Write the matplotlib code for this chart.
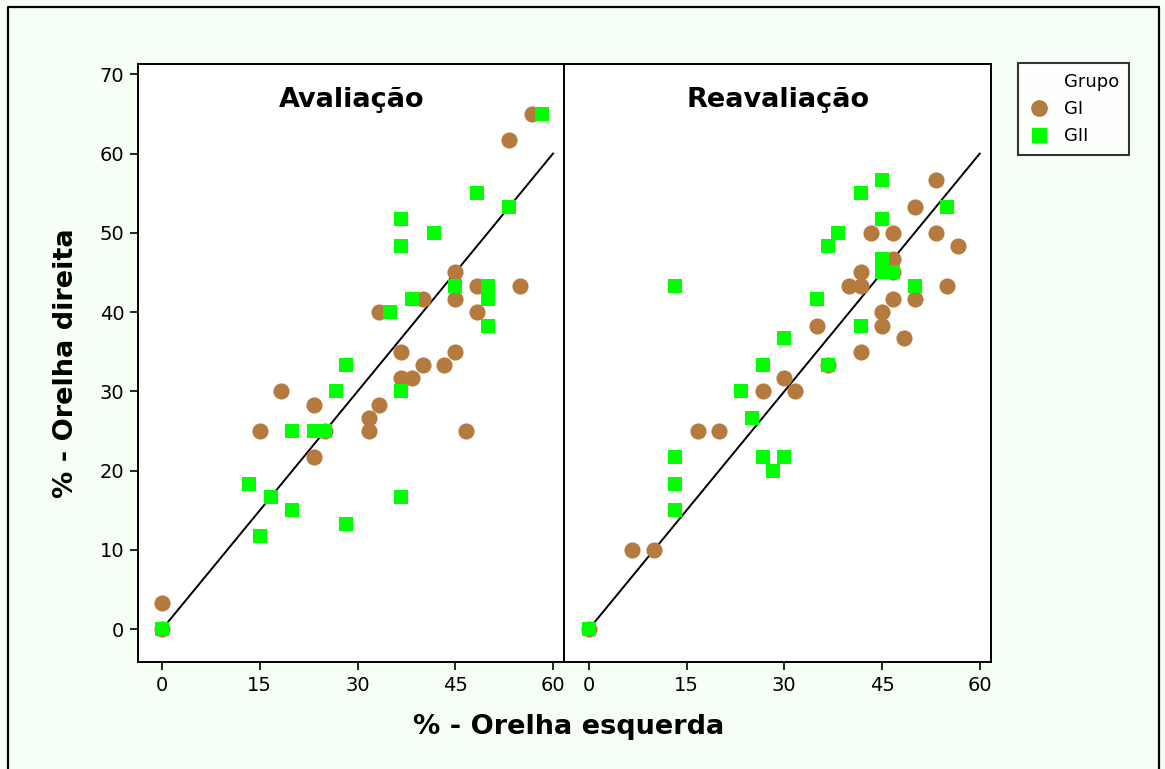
import matplotlib
matplotlib.use("Agg")
from matplotlib import pyplot as plt
from matplotlib.lines import Line2D

# Avaliação (left panel)
aval_gi_x = [0, 0, 15, 18.3, 23.3, 23.3, 25, 31.7, 31.7, 33.3, 36.7, 38.3, 40, 43.3,
             46.7, 36.7, 45, 33.3, 48.3, 40, 45, 45, 48.3, 55, 53.3, 56.7]
aval_gi_y = [0, 3.3, 25, 30, 28.3, 21.7, 25, 26.7, 25, 28.3, 31.7, 31.7, 33.3, 33.3,
             25, 35, 35, 40, 40, 41.7, 41.7, 45, 43.3, 43.3, 61.7, 65]
aval_gii_x = [0, 13.3, 15, 16.7, 20, 20, 23.3, 25, 28.3, 36.7, 26.7, 28.3, 36.7, 35,
              38.3, 45, 50, 50, 50, 36.7, 36.7, 41.7, 48.3, 53.3, 58.3]
aval_gii_y = [0, 18.3, 11.7, 16.7, 15, 25, 25, 25, 13.3, 16.7, 30, 33.3, 30, 40,
              41.7, 43.3, 43.3, 41.7, 38.3, 48.3, 51.7, 50, 55, 53.3, 65]

# Reavaliação (right panel)
reav_gi_x = [53.3, 50, 43.3, 46.7, 53.3, 56.7, 46.7, 41.7, 46.7, 40, 41.7, 55, 46.7, 50,
             45, 45, 35, 48.3, 41.7, 36.7, 30, 26.7, 31.7, 16.7, 20, 6.7, 10, 0]
reav_gi_y = [56.7, 53.3, 50, 50, 50, 48.3, 46.7, 45, 45, 43.3, 43.3, 43.3, 41.7, 41.7,
             40, 38.3, 38.3, 36.7, 35, 33.3, 31.7, 30, 30, 25, 25, 10, 10, 0]
reav_gii_x = [45, 41.7, 45, 38.3, 36.7, 55, 45, 45, 46.7, 50, 13.3, 35, 41.7, 30, 26.7,
              36.7, 23.3, 25, 13.3, 13.3, 13.3, 26.7, 30, 28.3, 0]
reav_gii_y = [56.7, 55, 51.7, 50, 48.3, 53.3, 46.7, 45, 45, 43.3, 43.3, 41.7, 38.3, 36.7,
              33.3, 33.3, 30, 26.7, 21.7, 18.3, 15, 21.7, 21.7, 20, 0]

panels = [("Avaliação", aval_gi_x, aval_gi_y, aval_gii_x, aval_gii_y),
          ("Reavaliação", reav_gi_x, reav_gi_y, reav_gii_x, reav_gii_y)]

x_ticks = [0, 15, 30, 45, 60]
y_ticks = [0, 10, 20, 30, 40, 50, 60, 70]

brown = '#B57A3D'
green = '#00FF00'

fig = plt.figure(figsize=(11.65, 7.69), dpi=100)
fig.patch.set_facecolor('#F5FFF5')

# frame around the figure (open at the bottom)
fig.add_artist(Line2D([0.007, 0.007, 0.9945, 0.9945], [0.0, 0.9905, 0.9905, 0.0],
                      transform=fig.transFigure, color='black', lw=1.6))

lefts = [0.1187, 0.4850]
for i, (title, gx, gy, hx, hy) in enumerate(panels):
    ax = fig.add_axes([lefts[i], 0.1395, 0.3655, 0.7773])
    ax.set_facecolor('white')
    ax.plot([0, 60], [0, 60], color='black', lw=1.4, zorder=1)
    ax.scatter(gx, gy, s=135, marker='o', color=brown, linewidths=0, zorder=2)
    ax.scatter(hx, hy, s=105, marker='s', color=green, linewidths=0, zorder=3)
    ax.set_xlim(-3.65, 61.7)
    ax.set_ylim(-4.1, 71.3)
    ax.set_xticks(x_ticks)
    ax.set_yticks(y_ticks)
    ax.text(0.5, 0.94, title, transform=ax.transAxes, ha='center', va='center',
            fontsize=19.5, fontweight='bold')
    for sp in ax.spines.values():
        sp.set_linewidth(1.4)
    ax.tick_params(direction='out', length=6, width=1.2, labelsize=14, pad=4)
    if i == 0:
        ax.set_ylabel('% - Orelha direita', fontsize=19.5, fontweight='bold', labelpad=15)
    else:
        ax.spines['left'].set_visible(False)
        ax.tick_params(axis='y', left=False, labelleft=False)

fig.text(0.488, 0.054, '% - Orelha esquerda', ha='center', va='center',
         fontsize=19.5, fontweight='bold')

handles = [Line2D([], [], linestyle='none', marker=None),
           Line2D([], [], linestyle='none', marker='o', color=brown, markersize=11),
           Line2D([], [], linestyle='none', marker='s', color=green, markersize=10)]
leg = fig.legend(handles, ['Grupo', 'GI', 'GII'], loc='upper left',
                 bbox_to_anchor=(0.874, 0.918), borderaxespad=0, fontsize=13,
                 frameon=True, fancybox=False, edgecolor='black', handlelength=1.2,
                 handletextpad=0.8, borderpad=0.55, labelspacing=0.5)
leg.get_frame().set_linewidth(1.5)

fig.savefig('out.png', dpi=100, facecolor=fig.get_facecolor())
